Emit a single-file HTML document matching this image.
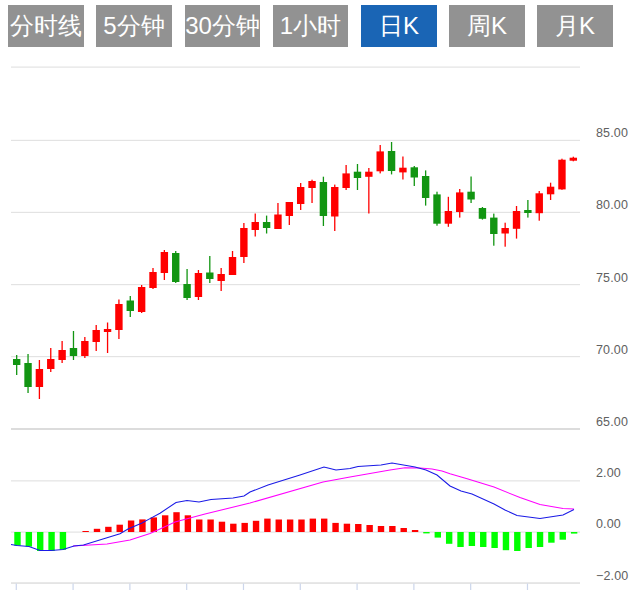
<!DOCTYPE html>
<html><head><meta charset="utf-8">
<style>
html,body{margin:0;padding:0;background:#fff;width:639px;height:590px;overflow:hidden;}
body{position:relative;font-family:"Liberation Sans",sans-serif;}
.btn{position:absolute;top:5px;width:76px;height:42px;background:#929292;color:#fff;font-size:24px;line-height:42px;text-align:center;white-space:nowrap;}
.btn.on{background:#1a65b5;}
svg{position:absolute;left:0;top:0;}
svg text{font-family:"Liberation Sans",sans-serif;font-size:12.5px;fill:#606060;letter-spacing:0.15px;}
</style></head><body>
<div class="btn" style="left:8px;width:76px">分时线</div><div class="btn" style="left:96px;width:76px">5分钟</div><div class="btn" style="left:185px;width:75px">30分钟</div><div class="btn" style="left:273px;width:75px">1小时</div><div class="btn on" style="left:361px;width:76px">日K</div><div class="btn" style="left:449px;width:76px">周K</div><div class="btn" style="left:537px;width:76px">月K</div>
<svg width="639" height="590" viewBox="0 0 639 590">
<rect x="11" y="66.5" width="569" height="1.2" fill="#e3e3e3"/>
<rect x="11" y="139.8" width="569" height="1.2" fill="#e3e3e3"/>
<rect x="11" y="211.8" width="569" height="1.2" fill="#e3e3e3"/>
<rect x="11" y="284.0" width="569" height="1.2" fill="#e3e3e3"/>
<rect x="11" y="356.0" width="569" height="1.2" fill="#e3e3e3"/>
<rect x="11" y="428" width="569" height="2" fill="#dcdcdc"/>
<rect x="11" y="480.25" width="569" height="1.2" fill="#e3e3e3"/>
<rect x="11" y="531.5" width="569" height="1.2" fill="#e3e3e3"/>
<rect x="11" y="582.3" width="569" height="1.5" fill="#dedede"/>
<rect x="15.68" y="583.5" width="1.2" height="7" fill="#ccd6eb"/>
<rect x="72.48" y="583.5" width="1.2" height="7" fill="#ccd6eb"/>
<rect x="129.28" y="583.5" width="1.2" height="7" fill="#ccd6eb"/>
<rect x="186.08" y="583.5" width="1.2" height="7" fill="#ccd6eb"/>
<rect x="242.88" y="583.5" width="1.2" height="7" fill="#ccd6eb"/>
<rect x="299.68" y="583.5" width="1.2" height="7" fill="#ccd6eb"/>
<rect x="356.48" y="583.5" width="1.2" height="7" fill="#ccd6eb"/>
<rect x="413.28" y="583.5" width="1.2" height="7" fill="#ccd6eb"/>
<rect x="470.08" y="583.5" width="1.2" height="7" fill="#ccd6eb"/>
<rect x="526.88" y="583.5" width="1.2" height="7" fill="#ccd6eb"/>
<rect x="16.03" y="355.0" width="1.3" height="20.00" fill="#129512"/>
<rect x="12.98" y="359.0" width="7.4" height="6.00" fill="#129512"/>
<rect x="27.39" y="354.0" width="1.3" height="39.00" fill="#129512"/>
<rect x="24.34" y="363.0" width="7.4" height="24.00" fill="#129512"/>
<rect x="38.75" y="360.0" width="1.3" height="39.00" fill="#ff0000"/>
<rect x="35.70" y="369.0" width="7.4" height="18.00" fill="#ff0000"/>
<rect x="50.11" y="348.0" width="1.3" height="24.00" fill="#ff0000"/>
<rect x="47.06" y="359.0" width="7.4" height="10.00" fill="#ff0000"/>
<rect x="61.47" y="341.0" width="1.3" height="22.00" fill="#ff0000"/>
<rect x="58.42" y="350.0" width="7.4" height="10.00" fill="#ff0000"/>
<rect x="72.83" y="331.0" width="1.3" height="29.00" fill="#129512"/>
<rect x="69.78" y="348.0" width="7.4" height="8.00" fill="#129512"/>
<rect x="84.19" y="337.0" width="1.3" height="21.00" fill="#ff0000"/>
<rect x="81.14" y="341.0" width="7.4" height="15.00" fill="#ff0000"/>
<rect x="95.55" y="325.0" width="1.3" height="26.00" fill="#ff0000"/>
<rect x="92.50" y="330.0" width="7.4" height="12.00" fill="#ff0000"/>
<rect x="106.91" y="322.5" width="1.3" height="30.50" fill="#ff0000"/>
<rect x="103.86" y="329.0" width="7.4" height="3.00" fill="#ff0000"/>
<rect x="118.27" y="299.5" width="1.3" height="39.50" fill="#ff0000"/>
<rect x="115.22" y="304.0" width="7.4" height="26.00" fill="#ff0000"/>
<rect x="129.63" y="296.0" width="1.3" height="21.00" fill="#129512"/>
<rect x="126.58" y="300.5" width="7.4" height="10.50" fill="#129512"/>
<rect x="140.99" y="285.0" width="1.3" height="28.00" fill="#ff0000"/>
<rect x="137.94" y="287.0" width="7.4" height="25.00" fill="#ff0000"/>
<rect x="152.35" y="268.0" width="1.3" height="21.00" fill="#ff0000"/>
<rect x="149.30" y="272.0" width="7.4" height="16.00" fill="#ff0000"/>
<rect x="163.71" y="250.0" width="1.3" height="30.00" fill="#ff0000"/>
<rect x="160.66" y="252.0" width="7.4" height="21.00" fill="#ff0000"/>
<rect x="175.07" y="251.0" width="1.3" height="32.00" fill="#129512"/>
<rect x="172.02" y="253.0" width="7.4" height="29.00" fill="#129512"/>
<rect x="186.43" y="269.0" width="1.3" height="31.00" fill="#129512"/>
<rect x="183.38" y="284.0" width="7.4" height="14.00" fill="#129512"/>
<rect x="197.79" y="270.0" width="1.3" height="30.00" fill="#ff0000"/>
<rect x="194.74" y="273.0" width="7.4" height="24.00" fill="#ff0000"/>
<rect x="209.15" y="256.0" width="1.3" height="27.00" fill="#129512"/>
<rect x="206.10" y="272.5" width="7.4" height="6.50" fill="#129512"/>
<rect x="220.51" y="268.0" width="1.3" height="23.00" fill="#ff0000"/>
<rect x="217.46" y="274.0" width="7.4" height="7.00" fill="#ff0000"/>
<rect x="231.87" y="251.0" width="1.3" height="24.00" fill="#ff0000"/>
<rect x="228.82" y="257.0" width="7.4" height="18.00" fill="#ff0000"/>
<rect x="243.23" y="223.0" width="1.3" height="40.00" fill="#ff0000"/>
<rect x="240.18" y="228.0" width="7.4" height="29.00" fill="#ff0000"/>
<rect x="254.59" y="213.5" width="1.3" height="23.00" fill="#ff0000"/>
<rect x="251.54" y="222.0" width="7.4" height="8.00" fill="#ff0000"/>
<rect x="265.95" y="215.6" width="1.3" height="17.90" fill="#129512"/>
<rect x="262.90" y="222.0" width="7.4" height="6.00" fill="#129512"/>
<rect x="277.31" y="203.0" width="1.3" height="26.00" fill="#ff0000"/>
<rect x="274.26" y="214.5" width="7.4" height="14.50" fill="#ff0000"/>
<rect x="288.67" y="202.0" width="1.3" height="23.00" fill="#ff0000"/>
<rect x="285.62" y="202.0" width="7.4" height="14.00" fill="#ff0000"/>
<rect x="300.03" y="183.0" width="1.3" height="27.00" fill="#ff0000"/>
<rect x="296.98" y="187.0" width="7.4" height="17.00" fill="#ff0000"/>
<rect x="311.39" y="179.7" width="1.3" height="23.30" fill="#ff0000"/>
<rect x="308.34" y="181.0" width="7.4" height="7.00" fill="#ff0000"/>
<rect x="322.75" y="176.7" width="1.3" height="49.30" fill="#129512"/>
<rect x="319.70" y="182.0" width="7.4" height="34.00" fill="#129512"/>
<rect x="334.11" y="184.6" width="1.3" height="46.40" fill="#ff0000"/>
<rect x="331.06" y="187.0" width="7.4" height="29.50" fill="#ff0000"/>
<rect x="345.47" y="165.0" width="1.3" height="25.00" fill="#ff0000"/>
<rect x="342.42" y="173.4" width="7.4" height="14.60" fill="#ff0000"/>
<rect x="356.83" y="164.0" width="1.3" height="26.00" fill="#129512"/>
<rect x="353.78" y="171.7" width="7.4" height="6.30" fill="#129512"/>
<rect x="368.19" y="168.0" width="1.3" height="45.50" fill="#ff0000"/>
<rect x="365.14" y="171.7" width="7.4" height="5.10" fill="#ff0000"/>
<rect x="379.55" y="145.0" width="1.3" height="28.40" fill="#ff0000"/>
<rect x="376.50" y="151.4" width="7.4" height="19.90" fill="#ff0000"/>
<rect x="390.91" y="142.0" width="1.3" height="32.40" fill="#129512"/>
<rect x="387.86" y="151.0" width="7.4" height="20.00" fill="#129512"/>
<rect x="402.27" y="156.5" width="1.3" height="23.00" fill="#ff0000"/>
<rect x="399.22" y="167.7" width="7.4" height="4.70" fill="#ff0000"/>
<rect x="413.63" y="166.0" width="1.3" height="20.00" fill="#129512"/>
<rect x="410.58" y="167.3" width="7.4" height="10.20" fill="#129512"/>
<rect x="424.99" y="170.4" width="1.3" height="35.20" fill="#129512"/>
<rect x="421.94" y="176.0" width="7.4" height="22.00" fill="#129512"/>
<rect x="436.35" y="191.7" width="1.3" height="34.00" fill="#129512"/>
<rect x="433.30" y="194.4" width="7.4" height="29.30" fill="#129512"/>
<rect x="447.71" y="196.8" width="1.3" height="30.00" fill="#ff0000"/>
<rect x="444.66" y="211.0" width="7.4" height="12.70" fill="#ff0000"/>
<rect x="459.07" y="189.0" width="1.3" height="28.60" fill="#ff0000"/>
<rect x="456.02" y="192.4" width="7.4" height="19.60" fill="#ff0000"/>
<rect x="470.43" y="176.5" width="1.3" height="26.50" fill="#129512"/>
<rect x="467.38" y="191.7" width="7.4" height="7.80" fill="#129512"/>
<rect x="481.79" y="207.0" width="1.3" height="12.60" fill="#129512"/>
<rect x="478.74" y="208.0" width="7.4" height="10.80" fill="#129512"/>
<rect x="493.15" y="213.6" width="1.3" height="32.10" fill="#129512"/>
<rect x="490.10" y="217.6" width="7.4" height="16.40" fill="#129512"/>
<rect x="504.51" y="222.7" width="1.3" height="24.00" fill="#ff0000"/>
<rect x="501.46" y="228.0" width="7.4" height="5.50" fill="#ff0000"/>
<rect x="515.87" y="206.0" width="1.3" height="32.60" fill="#ff0000"/>
<rect x="512.82" y="211.0" width="7.4" height="17.80" fill="#ff0000"/>
<rect x="527.23" y="200.0" width="1.3" height="17.60" fill="#129512"/>
<rect x="524.18" y="210.0" width="7.4" height="3.00" fill="#129512"/>
<rect x="538.59" y="191.0" width="1.3" height="29.70" fill="#ff0000"/>
<rect x="535.54" y="193.3" width="7.4" height="19.90" fill="#ff0000"/>
<rect x="549.95" y="182.7" width="1.3" height="17.30" fill="#ff0000"/>
<rect x="546.90" y="186.7" width="7.4" height="7.60" fill="#ff0000"/>
<rect x="561.31" y="158.7" width="1.3" height="31.10" fill="#ff0000"/>
<rect x="558.26" y="159.7" width="7.4" height="29.70" fill="#ff0000"/>
<rect x="572.67" y="156.7" width="1.3" height="4.60" fill="#ff0000"/>
<rect x="569.62" y="157.7" width="7.4" height="3.00" fill="#ff0000"/>
<rect x="14.28" y="532" width="6.4" height="13.70" fill="#00ff00"/>
<rect x="25.64" y="532" width="6.4" height="14.60" fill="#00ff00"/>
<rect x="37.00" y="532" width="6.4" height="19.00" fill="#00ff00"/>
<rect x="48.36" y="532" width="6.4" height="19.00" fill="#00ff00"/>
<rect x="59.72" y="532" width="6.4" height="17.80" fill="#00ff00"/>
<rect x="71.08" y="532" width="6.4" height="0.00" fill="#00ff00"/>
<rect x="82.44" y="531" width="6.4" height="1.00" fill="#ff0000"/>
<rect x="93.80" y="528.8" width="6.4" height="3.20" fill="#ff0000"/>
<rect x="105.16" y="526.8" width="6.4" height="5.20" fill="#ff0000"/>
<rect x="116.52" y="524.7" width="6.4" height="7.30" fill="#ff0000"/>
<rect x="127.88" y="520.5" width="6.4" height="11.50" fill="#ff0000"/>
<rect x="139.24" y="519.4" width="6.4" height="12.60" fill="#ff0000"/>
<rect x="150.60" y="517.4" width="6.4" height="14.60" fill="#ff0000"/>
<rect x="161.96" y="515.3" width="6.4" height="16.70" fill="#ff0000"/>
<rect x="173.32" y="512.2" width="6.4" height="19.80" fill="#ff0000"/>
<rect x="184.68" y="515.3" width="6.4" height="16.70" fill="#ff0000"/>
<rect x="196.04" y="519.5" width="6.4" height="12.50" fill="#ff0000"/>
<rect x="207.40" y="519.5" width="6.4" height="12.50" fill="#ff0000"/>
<rect x="218.76" y="521.7" width="6.4" height="10.30" fill="#ff0000"/>
<rect x="230.12" y="523.7" width="6.4" height="8.30" fill="#ff0000"/>
<rect x="241.48" y="522.9" width="6.4" height="9.10" fill="#ff0000"/>
<rect x="252.84" y="520.8" width="6.4" height="11.20" fill="#ff0000"/>
<rect x="264.20" y="518.6" width="6.4" height="13.40" fill="#ff0000"/>
<rect x="275.56" y="519.5" width="6.4" height="12.50" fill="#ff0000"/>
<rect x="286.92" y="519.5" width="6.4" height="12.50" fill="#ff0000"/>
<rect x="298.28" y="519.5" width="6.4" height="12.50" fill="#ff0000"/>
<rect x="309.64" y="518.6" width="6.4" height="13.40" fill="#ff0000"/>
<rect x="321.00" y="518.6" width="6.4" height="13.40" fill="#ff0000"/>
<rect x="332.36" y="522.9" width="6.4" height="9.10" fill="#ff0000"/>
<rect x="343.72" y="523.7" width="6.4" height="8.30" fill="#ff0000"/>
<rect x="355.08" y="524" width="6.4" height="8.00" fill="#ff0000"/>
<rect x="366.44" y="525" width="6.4" height="7.00" fill="#ff0000"/>
<rect x="377.80" y="526" width="6.4" height="6.00" fill="#ff0000"/>
<rect x="389.16" y="526" width="6.4" height="6.00" fill="#ff0000"/>
<rect x="400.52" y="528" width="6.4" height="4.00" fill="#ff0000"/>
<rect x="411.88" y="530" width="6.4" height="2.00" fill="#ff0000"/>
<rect x="423.24" y="532" width="6.4" height="1.40" fill="#00ff00"/>
<rect x="434.60" y="532" width="6.4" height="5.60" fill="#00ff00"/>
<rect x="445.96" y="532" width="6.4" height="11.80" fill="#00ff00"/>
<rect x="457.32" y="532" width="6.4" height="15.00" fill="#00ff00"/>
<rect x="468.68" y="532" width="6.4" height="14.00" fill="#00ff00"/>
<rect x="480.04" y="532" width="6.4" height="15.00" fill="#00ff00"/>
<rect x="491.40" y="532" width="6.4" height="16.00" fill="#00ff00"/>
<rect x="502.76" y="532" width="6.4" height="18.20" fill="#00ff00"/>
<rect x="514.12" y="532" width="6.4" height="19.00" fill="#00ff00"/>
<rect x="525.48" y="532" width="6.4" height="16.00" fill="#00ff00"/>
<rect x="536.84" y="532" width="6.4" height="15.00" fill="#00ff00"/>
<rect x="548.20" y="532" width="6.4" height="10.70" fill="#00ff00"/>
<rect x="559.56" y="532" width="6.4" height="7.70" fill="#00ff00"/>
<rect x="570.92" y="532" width="6.4" height="1.60" fill="#00ff00"/>
<polyline points="73,546 107,544 130,540 150,533.5 160,529 175,522 205,514 250,503 323,482 350,477 390,470 405,467.8 420,468 432,469 442,471 450,473.8 468,479 494,487 520,497.6 540,504.5 563,508.5 574,509" fill="none" stroke="#ff00ff" stroke-width="1.05"/>
<polyline points="11,544.5 17,545.5 29,546.5 40,550.5 51,550.5 63,549.5 74,546 83.5,545 107,537.7 120,533.8 128,529 142,523 150,518.6 160,513.2 176,502.5 187,500.5 199,502 211,499.5 233,498 244,496 250,492 268,485 300,475 324,467 336,470 350,468.6 358,466.6 381,465 392,463 415,467 426,470 437,475 450,486 461,491 472,494 494,504 505,510 517,515.5 540,518.5 563,515 574,509.5" fill="none" stroke="#1a1ae6" stroke-width="1.05"/>
<text x="596" y="137.2">85.00</text>
<text x="596" y="209.2">80.00</text>
<text x="596" y="281.7">75.00</text>
<text x="596" y="353.7">70.00</text>
<text x="596" y="425.9">65.00</text>
<text x="596" y="476.9">2.00</text>
<text x="596" y="528.2">0.00</text>
<text x="596" y="579.9">−2.00</text>
</svg>
</body></html>
